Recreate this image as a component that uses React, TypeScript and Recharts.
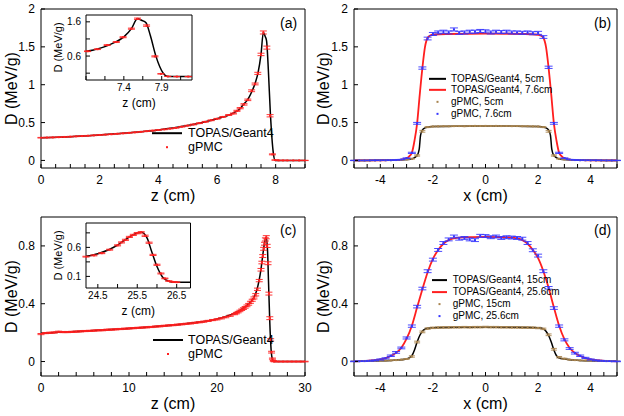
import React from "react";
import {
  ComposedChart, Line, Scatter, ErrorBar, XAxis, YAxis, ReferenceArea, Legend,
} from "recharts";

const FONT = "'Liberation Sans', Arial, Helvetica, sans-serif";
const RED = "#ff1f1f";
const BLUE = "#3535ff";
const TAN = "#a8844f";

// ── (a) depth dose, 9 cm range ──────────────────────────────────────────────
const aTopasZ = [0, 1, 2, 3, 4, 5, 5.5, 6, 6.5, 6.8, 6.9, 7, 7.1, 7.2, 7.3, 7.4, 7.5, 7.58, 7.64, 7.69, 7.75, 7.82, 7.92, 7.98, 8.3, 9];
const aTopasD = [0.3, 0.314, 0.336, 0.364, 0.402, 0.46, 0.5, 0.55, 0.615, 0.69, 0.74, 0.78, 0.84, 0.92, 1.02, 1.16, 1.4, 1.69, 1.64, 1.58, 1.2, 0.62, 0.1, 0, 0, 0];
const aGpmcZ = [
  0, 0.2, 0.4, 0.6, 0.8, 1, 1.2, 1.4, 1.6, 1.8, 2, 2.2, 2.4, 2.6, 2.8, 3, 3.2, 3.4, 3.6, 3.8, 4, 4.2, 4.4, 4.6, 4.8, 5, 5.2, 5.4, 5.6, 5.8, 6, 6.2, 6.4,
  6.56, 6.68, 6.79, 6.92, 7.05, 7.18, 7.3, 7.39, 7.5, 7.58, 7.7, 7.81, 7.89, 7.98, 8.1, 8.25, 8.4, 8.6, 8.8, 9,
];
const aGpmcD = [
  0.3, 0.302, 0.304, 0.307, 0.31, 0.314, 0.318, 0.322, 0.326, 0.331, 0.336, 0.341, 0.346, 0.352, 0.358, 0.364, 0.371, 0.378, 0.386, 0.394, 0.402, 0.41, 0.42, 0.43, 0.445, 0.46, 0.475, 0.492, 0.51, 0.53, 0.55, 0.575, 0.6,
  0.62, 0.655, 0.69, 0.74, 0.8, 0.92, 1.01, 1.15, 1.4, 1.69, 1.49, 0.59, 0.08, 0.005, 0, 0, 0, 0, 0, 0,
];
const aGpmcErr = [
  0.004, 0.004, 0.004, 0.004, 0.004, 0.004, 0.004, 0.004, 0.004, 0.004, 0.004, 0.004, 0.004, 0.004, 0.004, 0.004, 0.004, 0.004, 0.004, 0.004, 0.004, 0.004, 0.004, 0.004, 0.004, 0.004, 0.005, 0.005, 0.005, 0.005, 0.005, 0.005, 0.006,
  0.006, 0.007, 0.008, 0.009, 0.01, 0.012, 0.012, 0.014, 0.016, 0.02, 0.02, 0.015, 0.006, 0.002, 0.002, 0.002, 0.002, 0.002, 0.002, 0.002,
];

// ── (b) lateral profiles, 9 cm range ────────────────────────────────────────
const lateralX = [
  -5, -4.8, -4.6, -4.4, -4.2, -4, -3.8, -3.6, -3.4, -3.2, -3, -2.8, -2.6, -2.4, -2.2, -2, -1.8, -1.6, -1.4, -1.2, -1, -0.8, -0.6, -0.4, -0.2,
  0, 0.2, 0.4, 0.6, 0.8, 1, 1.2, 1.4, 1.6, 1.8, 2, 2.2, 2.4, 2.6, 2.8, 3, 3.2, 3.4, 3.6, 3.8, 4, 4.2, 4.4, 4.6, 4.8, 5,
];
const bTopas5X = [-5, -4, -3.4, -3, -2.8, -2.6, -2.52, -2.47, -2.4, -2.3, -2.1, -2, -1, 0, 1, 2, 2.1, 2.3, 2.4, 2.47, 2.52, 2.6, 2.8, 3, 3.4, 4, 5];
const bTopas5D = [0, 0.001, 0.004, 0.011, 0.02, 0.065, 0.15, 0.33, 0.4, 0.43, 0.445, 0.448, 0.453, 0.455, 0.453, 0.448, 0.445, 0.43, 0.4, 0.33, 0.15, 0.065, 0.02, 0.011, 0.004, 0.001, 0];
const bTopas76X = [-5, -4, -3.4, -3.2, -3, -2.9, -2.8, -2.7, -2.6, -2.5, -2.4, -2.3, -2.2, -2.1, -2, -1.5, 0, 1.5, 2, 2.1, 2.2, 2.3, 2.4, 2.5, 2.6, 2.7, 2.8, 2.9, 3, 3.2, 3.4, 4, 5];
const bTopas76D = [0, 0.002, 0.006, 0.012, 0.03, 0.055, 0.1, 0.26, 0.49, 0.87, 1.22, 1.5, 1.62, 1.65, 1.66, 1.67, 1.675, 1.67, 1.66, 1.65, 1.62, 1.5, 1.22, 0.87, 0.49, 0.26, 0.1, 0.055, 0.03, 0.012, 0.006, 0.002, 0];
const bGpmc5D = [
  0, 0, 0, 0, 0.001, 0.001, 0.002, 0.003, 0.005, 0.008, 0.012,
  0.022, 0.065, 0.385, 0.44, 0.448, 0.45, 0.452, 0.451, 0.453, 0.454, 0.452, 0.455, 0.456, 0.455, 0.456, 0.455, 0.456, 0.454, 0.455, 0.453, 0.454, 0.452, 0.452, 0.45, 0.448, 0.44, 0.385, 0.065, 0.022,
  0.012, 0.008, 0.005, 0.003, 0.002, 0.001, 0.001, 0, 0, 0, 0,
];
const bGpmc5Err = [
  0.002, 0.002, 0.002, 0.002, 0.002, 0.002, 0.002, 0.002, 0.002, 0.002, 0.002,
  0.004, 0.008, 0.012, 0.006, 0.005, 0.005, 0.005, 0.005, 0.005, 0.005, 0.005, 0.005, 0.005, 0.005, 0.005, 0.005, 0.005, 0.005, 0.005, 0.005, 0.005, 0.005, 0.005, 0.005, 0.005, 0.006, 0.012, 0.008, 0.004,
  0.002, 0.002, 0.002, 0.002, 0.002, 0.002, 0.002, 0.002, 0.002, 0.002, 0.002,
];
const bGpmc76D = [
  0, 0, 0, 0.001, 0.002, 0.002, 0.003, 0.004, 0.006, 0.012, 0.03,
  0.1, 0.49, 1.22, 1.61, 1.67, 1.69, 1.7, 1.69, 1.73, 1.685, 1.69, 1.7, 1.7, 1.71, 1.705, 1.69, 1.7, 1.695, 1.7, 1.69, 1.69, 1.685, 1.69, 1.68, 1.685, 1.63, 1.23, 0.49, 0.1,
  0.03, 0.012, 0.006, 0.004, 0.003, 0.002, 0.002, 0.001, 0, 0, 0,
];
const bGpmc76Err = [
  0.002, 0.002, 0.002, 0.002, 0.002, 0.002, 0.002, 0.002, 0.002, 0.002, 0.003,
  0.008, 0.012, 0.015, 0.018, 0.02, 0.02, 0.02, 0.02, 0.02, 0.02, 0.02, 0.02, 0.02, 0.02, 0.02, 0.02, 0.02, 0.02, 0.02, 0.02, 0.02, 0.02, 0.02, 0.02, 0.02, 0.018, 0.015, 0.012, 0.008,
  0.003, 0.002, 0.002, 0.002, 0.002, 0.002, 0.002, 0.002, 0.002, 0.002, 0.002,
];

// ── (c) depth dose, 30 cm range ─────────────────────────────────────────────
const cTopasZ = [0, 1, 2, 4, 6, 8, 10, 12, 14, 16, 18, 20, 21, 22, 23, 23.5, 24, 24.2, 24.5, 25, 25.2, 25.4, 25.6, 25.75, 25.85, 26, 26.15, 26.3, 26.45, 26.85, 30];
const cTopasD = [0.195, 0.198, 0.202, 0.208, 0.214, 0.221, 0.229, 0.237, 0.247, 0.258, 0.273, 0.295, 0.312, 0.335, 0.37, 0.395, 0.425, 0.445, 0.49, 0.64, 0.735, 0.82, 0.86, 0.76, 0.56, 0.27, 0.08, 0.015, 0, 0, 0];
const cGpmcZ = [
  0, 0.5, 1, 1.5, 2, 2.5, 3, 3.5, 4, 4.5, 5, 5.5, 6, 6.5, 7, 7.5, 8, 8.5, 9, 9.5, 10, 10.5, 11, 11.5, 12, 12.5, 13, 13.5, 14, 14.5, 15, 15.5, 16, 16.5, 17, 17.5, 18, 18.5, 19, 19.5, 20, 20.5, 21, 21.5, 22,
  22.2, 22.4, 22.6, 22.8, 23, 23.2, 23.4, 23.6, 23.8, 24, 24.2, 24.4, 24.6, 24.8,
  25, 25.1, 25.2, 25.3, 25.4, 25.5, 25.6, 25.7, 25.8, 25.9, 26, 26.1, 26.2, 26.3, 26.4, 26.5,
  27, 27.5, 28, 28.5, 29, 29.5, 30,
];
const cGpmcD = [
  0.19, 0.197, 0.199, 0.201, 0.206, 0.204, 0.204, 0.205, 0.207, 0.209, 0.211, 0.212, 0.214, 0.216, 0.217, 0.22, 0.221, 0.223, 0.225, 0.227, 0.229, 0.231, 0.233, 0.235, 0.237, 0.239, 0.242, 0.244, 0.247, 0.25, 0.252, 0.255, 0.258, 0.261, 0.264, 0.268, 0.272, 0.276, 0.281, 0.287, 0.292, 0.299, 0.307, 0.317, 0.328,
  0.335, 0.342, 0.35, 0.358, 0.366, 0.375, 0.385, 0.396, 0.41, 0.424, 0.44, 0.462, 0.5, 0.56,
  0.635, 0.685, 0.73, 0.78, 0.815, 0.845, 0.86, 0.8, 0.68, 0.47, 0.3, 0.15, 0.065, 0.02, 0.005, 0,
  0, 0, 0, 0, 0, 0, 0,
];
const cGpmcErr = [
  0.004, 0.004, 0.004, 0.004, 0.004, 0.004, 0.004, 0.004, 0.004, 0.004, 0.004, 0.004, 0.004, 0.004, 0.004, 0.004, 0.004, 0.004, 0.004, 0.004, 0.004, 0.004, 0.004, 0.004, 0.004, 0.004, 0.004, 0.004, 0.004, 0.004, 0.004, 0.004, 0.004, 0.004, 0.004, 0.004, 0.004, 0.004, 0.004, 0.004, 0.004, 0.004, 0.004, 0.004, 0.004,
  0.005, 0.005, 0.005, 0.005, 0.006, 0.006, 0.006, 0.006, 0.007, 0.007, 0.007, 0.008, 0.008, 0.008,
  0.009, 0.009, 0.01, 0.01, 0.01, 0.011, 0.011, 0.011, 0.01, 0.01, 0.01, 0.008, 0.006, 0.004, 0.002, 0.002,
  0.002, 0.002, 0.002, 0.002, 0.002, 0.002, 0.002,
];

// ── (d) lateral profiles, 30 cm range ───────────────────────────────────────
const dTopas15X = [-5, -4, -3.5, -3, -2.9, -2.8, -2.7, -2.6, -2.5, -2.4, -2.3, -2.2, -2, -1, 0, 1, 2, 2.1, 2.2, 2.3, 2.4, 2.5, 2.6, 2.7, 2.8, 3, 3.5, 4, 5];
const dTopas15D = [0.002, 0.005, 0.009, 0.018, 0.025, 0.04, 0.08, 0.135, 0.18, 0.21, 0.224, 0.23, 0.234, 0.237, 0.238, 0.237, 0.234, 0.232, 0.226, 0.21, 0.18, 0.135, 0.08, 0.04, 0.025, 0.018, 0.009, 0.005, 0.002];
const dTopas256X = [-5, -4.6, -4.2, -4, -3.8, -3.6, -3.4, -3.2, -3, -2.8, -2.6, -2.4, -2.2, -2, -1.8, -1.6, -1.4, -1.2, -1, -0.5, 0, 0.5, 1, 1.2, 1.4, 1.6, 1.8, 2, 2.2, 2.4, 2.6, 2.8, 3, 3.2, 3.4, 3.6, 3.8, 4, 4.2, 4.6, 5];
const dTopas256D = [0.002, 0.004, 0.009, 0.015, 0.024, 0.038, 0.06, 0.096, 0.158, 0.248, 0.375, 0.5, 0.618, 0.71, 0.772, 0.815, 0.84, 0.852, 0.858, 0.861, 0.862, 0.861, 0.858, 0.852, 0.84, 0.815, 0.772, 0.715, 0.625, 0.51, 0.375, 0.248, 0.155, 0.094, 0.06, 0.038, 0.024, 0.015, 0.009, 0.004, 0.002];
const dGpmc15D = [
  0.002, 0.003, 0.004, 0.004, 0.005, 0.006, 0.007, 0.008, 0.01, 0.013, 0.018,
  0.035, 0.135, 0.205, 0.228, 0.233, 0.235, 0.236, 0.236, 0.237, 0.237, 0.238, 0.237, 0.238, 0.238, 0.239, 0.238, 0.238, 0.237, 0.237, 0.236, 0.236, 0.235, 0.235, 0.234, 0.232, 0.226, 0.185, 0.085, 0.03,
  0.02, 0.013, 0.01, 0.008, 0.007, 0.006, 0.005, 0.004, 0.004, 0.003, 0.002,
];
const dGpmc15Err = [
  0.002, 0.002, 0.002, 0.002, 0.002, 0.002, 0.002, 0.002, 0.002, 0.002, 0.003,
  0.005, 0.006, 0.006, 0.005, 0.005, 0.005, 0.005, 0.005, 0.005, 0.005, 0.005, 0.005, 0.005, 0.005, 0.005, 0.005, 0.005, 0.005, 0.005, 0.005, 0.005, 0.005, 0.005, 0.005, 0.005, 0.005, 0.006, 0.006, 0.005,
  0.003, 0.002, 0.002, 0.002, 0.002, 0.002, 0.002, 0.002, 0.002, 0.002, 0.002,
];
const dGpmc256D = [
  0.001, 0.002, 0.003, 0.005, 0.008, 0.014, 0.022, 0.04, 0.063, 0.094, 0.163,
  0.245, 0.38, 0.505, 0.625, 0.705, 0.772, 0.82, 0.845, 0.865, 0.85, 0.855, 0.845, 0.84, 0.87, 0.868, 0.86, 0.865, 0.855, 0.86, 0.858, 0.855, 0.85, 0.82, 0.77, 0.733, 0.625, 0.51, 0.37, 0.245,
  0.15, 0.09, 0.058, 0.04, 0.025, 0.014, 0.008, 0.005, 0.003, 0.002, 0.001,
];
const dGpmc256Err = [
  0.002, 0.002, 0.002, 0.003, 0.003, 0.004, 0.004, 0.005, 0.006, 0.006, 0.007,
  0.008, 0.009, 0.009, 0.01, 0.01, 0.01, 0.01, 0.01, 0.01, 0.01, 0.01, 0.01, 0.01, 0.01, 0.01, 0.01, 0.01, 0.01, 0.01, 0.01, 0.01, 0.01, 0.01, 0.01, 0.01, 0.01, 0.009, 0.009, 0.008,
  0.007, 0.006, 0.006, 0.005, 0.004, 0.004, 0.003, 0.003, 0.002, 0.002, 0.002,
];

// ── axis ticks ──────────────────────────────────────────────────────────────
const aXTicks = [0, 0.5, 1, 1.5, 2, 2.5, 3, 3.5, 4, 4.5, 5, 5.5, 6, 6.5, 7, 7.5, 8, 8.5, 9];
const aXLabels = [0, 2, 4, 6, 8];
const cXTicks = [0, 2, 4, 6, 8, 10, 12, 14, 16, 18, 20, 22, 24, 26, 28, 30];
const cXLabels = [0, 10, 20, 30];
const latTicks = [-5, -4.5, -4, -3.5, -3, -2.5, -2, -1.5, -1, -0.5, 0, 0.5, 1, 1.5, 2, 2.5, 3, 3.5, 4, 4.5, 5];
const latLabels = [-4, -2, 0, 2, 4];
const dose2Ticks = [0, 0.5, 1, 1.5, 2];
const dose1Ticks = [0, 0.4, 0.8];
const aInsetXTicks = [6.9, 7.15, 7.4, 7.65, 7.9, 8.15];
const aInsetXLabels = [7.4, 7.9];
const aInsetYTicks = [0.1, 0.6, 1.1, 1.6];
const aInsetYLabels = [0.6, 1.6];
const cInsetXTicks = [24.5, 25, 25.5, 26, 26.5];
const cInsetXLabels = [24.5, 25.5, 26.5];
const cInsetYTicks = [0.1, 0.35, 0.6, 0.85];
const cInsetYLabels = [0.1, 0.6];

type Pt = { x: number; y: number; e: number };
const rows = (xs: number[], ys: number[], es?: number[]): Pt[] =>
  xs.map((x, i) => ({ x, y: ys[i], e: es ? es[i] : 0 }));

const only = (labels: number[]) => (v: number) => {
  const hit = labels.find(l => Math.abs(l - v) < 1e-6);
  return hit === undefined ? "" : String(hit);
};

// cap = half width of the error-bar cap in px (recharts draws ±width)
type LineSpec = { data: Pt[]; color: string; w: number };
type PtsSpec = { data: Pt[]; color: string; cap: number };
type LegendItem = { label: string; color: string; kind: "line" | "dot" };
type LegendSpec = { items: LegendItem[]; left: number; top: number; sample: number; gap: number; rowH: number; font: number };

function LegendBox({ spec }: { spec: LegendSpec }) {
  const { items, sample, gap, rowH, font } = spec;
  return (
    <div style={{ fontFamily: FONT }}>
      {items.map(it => (
        <div key={it.label} style={{ display: "flex", alignItems: "center", height: rowH, whiteSpace: "nowrap" }}>
          <svg width={sample} height={rowH} style={{ display: "block" }}>
            {it.kind === "line"
              ? <line x1={0} x2={sample} y1={rowH / 2} y2={rowH / 2} stroke={it.color} strokeWidth={2} />
              : <rect x={sample / 2 - 1} y={rowH / 2 - 1} width={2} height={2} fill={it.color} />}
          </svg>
          <span style={{ marginLeft: gap, fontSize: font, color: "#000", lineHeight: `${rowH}px` }}>{it.label}</span>
        </div>
      ))}
    </div>
  );
}

type PlotProps = {
  width: number; height: number;
  margin: { top: number; right: number; bottom: number; left: number };
  yWidth: number; xHeight: number;
  xDomain: [number, number]; yDomain: [number, number];
  xTicks: number[]; yTicks: number[]; xLabels: number[]; yLabels: number[];
  xTitle: string; yTitle: string;
  tickFont: number; titleFont: number; yTitleFont: number;
  xTickMargin: number; yTickMargin: number; xTitleOffset: number; yTitleOffset: number;
  lines: LineSpec[]; pts: PtsSpec[]; legend?: LegendSpec;
};

function Plot(p: PlotProps) {
  const [x0, x1] = p.xDomain;
  // keep only the samples that fall inside this plot's x range (the insets zoom in)
  const inside = (d: Pt) => d.x >= x0 - 1e-9 && d.x <= x1 + 1e-9;
  return (
    <ComposedChart width={p.width} height={p.height} margin={p.margin}>
      <XAxis
        dataKey="x" type="number" domain={p.xDomain} ticks={p.xTicks} interval={0} allowDataOverflow
        tickFormatter={only(p.xLabels)} height={p.xHeight} axisLine={false}
        tickSize={-4} tickMargin={p.xTickMargin} tickLine={{ stroke: "#000" }}
        tick={{ fill: "#000", fontSize: p.tickFont, fontFamily: FONT }}
        label={{ value: p.xTitle, position: "insideBottom", offset: p.xTitleOffset, fill: "#000", fontSize: p.titleFont, fontFamily: FONT }}
      />
      <YAxis
        dataKey="y" type="number" domain={p.yDomain} ticks={p.yTicks} interval={0} allowDataOverflow
        tickFormatter={only(p.yLabels)} width={p.yWidth} axisLine={false}
        tickSize={-4} tickMargin={p.yTickMargin} tickLine={{ stroke: "#000" }}
        tick={{ fill: "#000", fontSize: p.tickFont, fontFamily: FONT }}
        label={{ value: p.yTitle, angle: -90, position: "insideLeft", offset: p.yTitleOffset, fill: "#000", fontSize: p.yTitleFont, fontFamily: FONT, style: { textAnchor: "middle" } }}
      />
      <ReferenceArea x1={x0} x2={x1} y1={p.yDomain[0]} y2={p.yDomain[1]} fill="none" fillOpacity={0} stroke="#000" strokeWidth={1} />
      {p.lines.map((l, i) => (
        <Line key={"l" + i} data={l.data.filter(inside)} dataKey="y" type="monotone" stroke={l.color} strokeWidth={l.w}
          dot={false} activeDot={false} isAnimationActive={false} />
      ))}
      {p.pts.map((s, i) => (
        <Scatter key={"s" + i} data={s.data.filter(inside)} dataKey="y" fill={s.color} isAnimationActive={false}
          shape={(q: any) => <rect x={q.cx - 1} y={q.cy - 1} width={2} height={2} fill={s.color} />}>
          <ErrorBar dataKey="e" direction="y" width={s.cap} stroke={s.color} strokeWidth={0.9} isAnimationActive={false} />
        </Scatter>
      ))}
      {p.legend && (
        <Legend layout="vertical" align="center" verticalAlign="middle"
          wrapperStyle={{ left: p.legend.left, top: p.legend.top, width: "auto" }}
          content={() => <LegendBox spec={p.legend!} />} />
      )}
    </ComposedChart>
  );
}

const MAIN = {
  width: 312, height: 208, xHeight: 40,
  tickFont: 12, titleFont: 16, yTitleFont: 16,
  xTickMargin: 11, yTickMargin: 10, xTitleOffset: 7, yTitleOffset: 11,
};
const INSET = {
  width: 150, height: 105, xHeight: 30, yWidth: 41,
  tickFont: 10, titleFont: 12, yTitleFont: 11,
  xTickMargin: 8, yTickMargin: 9, xTitleOffset: 3, yTitleOffset: 13,
};

function PanelTag({ text, left, top }: { text: string; left: number; top: number }) {
  return <div style={{ position: "absolute", left, top, fontSize: 14, lineHeight: "18px", color: "#000" }}>{text}</div>;
}

export default function App() {
  const aTopas = rows(aTopasZ, aTopasD);
  const aGpmc = rows(aGpmcZ, aGpmcD, aGpmcErr);
  const cTopas = rows(cTopasZ, cTopasD);
  const cGpmc = rows(cGpmcZ, cGpmcD, cGpmcErr);

  return (
    <div style={{ position: "absolute", left: 0, top: 0, width: 624, height: 416, background: "#fff", fontFamily: FONT }}>
      {/* (a) */}
      <div style={{ position: "absolute", left: 0, top: 0, width: 312, height: 208 }}>
        <Plot {...MAIN} margin={{ top: 9, right: 7, bottom: 0, left: 0 }} yWidth={41}
          xDomain={[0, 9]} yDomain={[-0.1, 2]} xTicks={aXTicks} xLabels={aXLabels} yTicks={dose2Ticks} yLabels={dose2Ticks}
          xTitle="z (cm)" yTitle="D (MeV/g)"
          lines={[{ data: aTopas, color: "#000", w: 1.5 }]}
          pts={[{ data: aGpmc, color: RED, cap: 3.5 }]}
          legend={{ items: [{ label: "TOPAS/Geant4", color: "#000", kind: "line" }, { label: "gPMC", color: RED, kind: "dot" }], left: 152, top: 126, sample: 30, gap: 6, rowH: 14.4, font: 12.5 }}
        />
        <div style={{ position: "absolute", left: 45, top: 5 }}>
          <Plot {...INSET} margin={{ top: 10, right: 3, bottom: 0, left: 0 }}
            xDomain={[6.9, 8.3]} yDomain={[-0.1, 1.8]} xTicks={aInsetXTicks} xLabels={aInsetXLabels} yTicks={aInsetYTicks} yLabels={aInsetYLabels}
            xTitle="z (cm)" yTitle="D (MeV/g)"
            lines={[{ data: aTopas, color: "#000", w: 1.5 }]}
            pts={[{ data: aGpmc, color: RED, cap: 3.5 }]}
          />
        </div>
        <PanelTag text="(a)" left={280} top={14} />
      </div>

      {/* (b) */}
      <div style={{ position: "absolute", left: 312, top: 0, width: 312, height: 208 }}>
        <Plot {...MAIN} margin={{ top: 9, right: 7, bottom: 0, left: 0 }} yWidth={42}
          xDomain={[-5, 5]} yDomain={[-0.1, 2]} xTicks={latTicks} xLabels={latLabels} yTicks={dose2Ticks} yLabels={dose2Ticks}
          xTitle="x (cm)" yTitle="D (MeV/g)"
          lines={[
            { data: rows(bTopas5X, bTopas5D), color: "#000", w: 1.5 },
            { data: rows(bTopas76X, bTopas76D), color: RED, w: 1.8 },
          ]}
          pts={[
            { data: rows(lateralX, bGpmc5D, bGpmc5Err), color: TAN, cap: 3 },
            { data: rows(lateralX, bGpmc76D, bGpmc76Err), color: BLUE, cap: 4 },
          ]}
          legend={{
            items: [
              { label: "TOPAS/Geant4, 5cm", color: "#000", kind: "line" },
              { label: "TOPAS/Geant4, 7.6cm", color: RED, kind: "line" },
              { label: "gPMC, 5cm", color: TAN, kind: "dot" },
              { label: "gPMC, 7.6cm", color: BLUE, kind: "dot" },
            ], left: 117, top: 72.5, sample: 17, gap: 5, rowH: 11.7, font: 10,
          }}
        />
        <PanelTag text="(b)" left={282} top={14} />
      </div>

      {/* (c) */}
      <div style={{ position: "absolute", left: 0, top: 208, width: 312, height: 208 }}>
        <Plot {...MAIN} margin={{ top: 9, right: 7, bottom: 0, left: 0 }} yWidth={41}
          xDomain={[0, 30]} yDomain={[-0.1, 1]} xTicks={cXTicks} xLabels={cXLabels} yTicks={dose1Ticks} yLabels={dose1Ticks}
          xTitle="z (cm)" yTitle="D (MeV/g)"
          lines={[{ data: cTopas, color: "#000", w: 1.5 }]}
          pts={[{ data: cGpmc, color: RED, cap: 3.5 }]}
          legend={{ items: [{ label: "TOPAS/Geant4", color: "#000", kind: "line" }, { label: "gPMC", color: RED, kind: "dot" }], left: 153, top: 125, sample: 30, gap: 5, rowH: 14, font: 12.5 }}
        />
        <div style={{ position: "absolute", left: 45, top: 5 }}>
          <Plot {...INSET} margin={{ top: 10, right: 4.5, bottom: 0, left: 0 }}
            xDomain={[24.2, 26.85]} yDomain={[-0.1, 1.02]} xTicks={cInsetXTicks} xLabels={cInsetXLabels} yTicks={cInsetYTicks} yLabels={cInsetYLabels}
            xTitle="z (cm)" yTitle="D (MeV/g)"
            lines={[{ data: cTopas, color: "#000", w: 1.5 }]}
            pts={[{ data: cGpmc, color: RED, cap: 3.5 }]}
          />
        </div>
        <PanelTag text="(c)" left={280} top={13} />
      </div>

      {/* (d) */}
      <div style={{ position: "absolute", left: 312, top: 208, width: 312, height: 208 }}>
        <Plot {...MAIN} margin={{ top: 9, right: 7, bottom: 0, left: 0 }} yWidth={42}
          xDomain={[-5, 5]} yDomain={[-0.1, 1]} xTicks={latTicks} xLabels={latLabels} yTicks={dose1Ticks} yLabels={dose1Ticks}
          xTitle="x (cm)" yTitle="D (MeV/g)"
          lines={[
            { data: rows(dTopas15X, dTopas15D), color: "#000", w: 1.5 },
            { data: rows(dTopas256X, dTopas256D), color: RED, w: 1.8 },
          ]}
          pts={[
            { data: rows(lateralX, dGpmc15D, dGpmc15Err), color: TAN, cap: 3 },
            { data: rows(lateralX, dGpmc256D, dGpmc256Err), color: BLUE, cap: 4 },
          ]}
          legend={{
            items: [
              { label: "TOPAS/Geant4, 15cm", color: "#000", kind: "line" },
              { label: "TOPAS/Geant4, 25.6cm", color: RED, kind: "line" },
              { label: "gPMC, 15cm", color: TAN, kind: "dot" },
              { label: "gPMC, 25.6cm", color: BLUE, kind: "dot" },
            ], left: 120, top: 65.6, sample: 15, gap: 5.7, rowH: 12.2, font: 10,
          }}
        />
        <PanelTag text="(d)" left={282} top={13} />
      </div>
    </div>
  );
}
